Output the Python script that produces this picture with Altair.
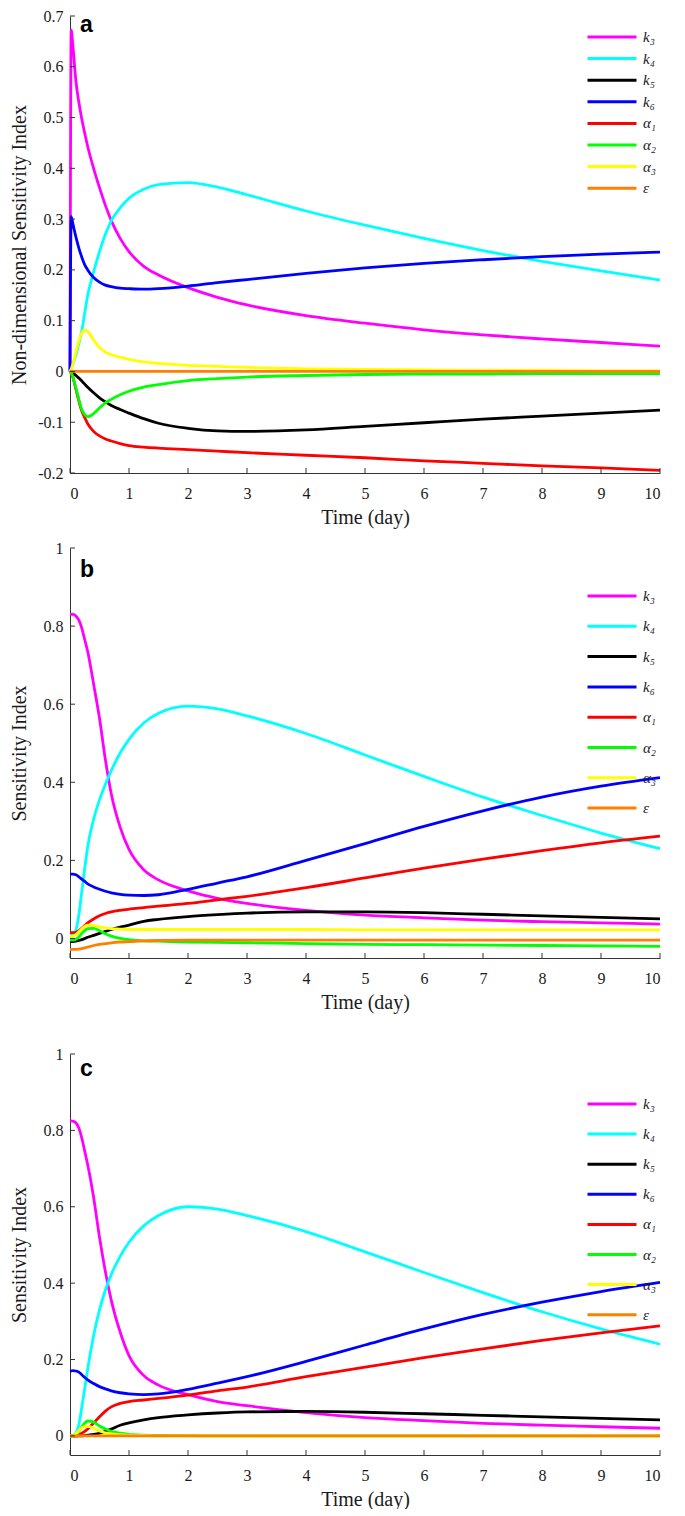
import altair as alt
import pandas as pd

# ---------------- data ----------------
T = [0, 0.02, 0.05, 0.1, 0.15, 0.2, 0.25, 0.3, 0.4, 0.5, 0.6, 0.7, 0.85, 1.0,
     1.25, 1.5, 2.0, 2.5, 3, 4, 5, 6, 7, 8, 9, 10]

SERIES = ["k\u2083", "k\u2084", "k\u2085", "k\u2086", "\u03b1\u2081", "\u03b1\u2082", "\u03b1\u2083", "\u03b5"]
COLORS = ["#FF00FF", "#00FFFF", "#000000", "#0000FF", "#FF0000", "#00FF00", "#FFFF00", "#FF8000"]

XTICKS = [0, 1, 2, 3, 4, 5, 6, 7, 8, 9, 10]
A_YTICKS = [-0.2, -0.1, 0, 0.1, 0.2, 0.3, 0.4, 0.5, 0.6, 0.7]
BC_YTICKS = [0, 0.2, 0.4, 0.6, 0.8, 1]

# panel a
A_K3 = [0, 0.672, 0.64, 0.572, 0.53, 0.497, 0.469, 0.443, 0.4, 0.362, 0.327, 0.297, 0.262, 0.236,
        0.207, 0.19, 0.165, 0.146, 0.131, 0.11, 0.095, 0.082, 0.072, 0.064, 0.057, 0.05]
A_K4 = [0, 0.005, 0.015, 0.032, 0.055, 0.08, 0.115, 0.15, 0.196, 0.236, 0.27, 0.297, 0.322, 0.341,
        0.359, 0.368, 0.372, 0.363, 0.348, 0.316, 0.288, 0.262, 0.238, 0.217, 0.198, 0.18]
A_K5 = [0, -0.001, -0.003, -0.008, -0.013, -0.019, -0.025, -0.031, -0.042, -0.052, -0.06, -0.067,
        -0.075, -0.082, -0.093, -0.102, -0.112, -0.117, -0.118, -0.115, -0.108, -0.101, -0.094,
        -0.088, -0.082, -0.076]
A_K6 = [0, 0.305, 0.29, 0.265, 0.243, 0.225, 0.21, 0.2, 0.185, 0.176, 0.17, 0.167, 0.164, 0.163,
        0.162, 0.163, 0.168, 0.175, 0.181, 0.193, 0.204, 0.213, 0.22, 0.226, 0.231, 0.235]
A_AL1 = [0, -0.003, -0.012, -0.035, -0.058, -0.078, -0.091, -0.103, -0.118, -0.127, -0.133, -0.137,
         -0.142, -0.146, -0.149, -0.151, -0.154, -0.157, -0.16, -0.165, -0.17, -0.176, -0.181,
         -0.186, -0.19, -0.195]
A_AL2 = [0, -0.003, -0.012, -0.033, -0.055, -0.075, -0.085, -0.089, -0.083, -0.072, -0.062, -0.055,
         -0.046, -0.039, -0.031, -0.026, -0.018, -0.014, -0.011, -0.008, -0.006, -0.005, -0.005,
         -0.004, -0.004, -0.004]
A_AL3 = [0, 0.005, 0.015, 0.038, 0.06, 0.076, 0.082, 0.079, 0.062, 0.047, 0.038, 0.033, 0.028,
         0.024, 0.019, 0.016, 0.012, 0.01, 0.008, 0.005, 0.004, 0.003, 0.002, 0.002, 0.001, 0.001]
A_EPS = [0] * 26

# panel b
B_K3 = [0.83, 0.83, 0.83, 0.826, 0.815, 0.795, 0.765, 0.735, 0.652, 0.564, 0.458, 0.37, 0.285,
        0.228, 0.176, 0.15, 0.122, 0.103, 0.09, 0.072, 0.06, 0.053, 0.047, 0.043, 0.04, 0.037]
B_K4 = [0.01, 0.01, 0.011, 0.022, 0.06, 0.12, 0.18, 0.235, 0.305, 0.355, 0.395, 0.43, 0.475, 0.51,
        0.552, 0.577, 0.595, 0.588, 0.57, 0.525, 0.47, 0.415, 0.362, 0.315, 0.27, 0.23]
B_K5 = [-0.008, -0.008, -0.008, -0.007, -0.005, -0.003, 0.0, 0.003, 0.008, 0.013, 0.018, 0.023,
        0.029, 0.034, 0.044, 0.049, 0.056, 0.061, 0.065, 0.068, 0.068, 0.066, 0.062, 0.058, 0.054,
        0.05]
B_K6 = [0.165, 0.165, 0.165, 0.163, 0.158, 0.152, 0.146, 0.14, 0.132, 0.126, 0.121, 0.117, 0.113,
        0.111, 0.11, 0.112, 0.126, 0.142, 0.158, 0.2, 0.243, 0.287, 0.327, 0.362, 0.39, 0.412]
B_AL1 = [0.015, 0.015, 0.015, 0.016, 0.02, 0.026, 0.033, 0.04, 0.05, 0.058, 0.064, 0.068, 0.072,
         0.075, 0.079, 0.083, 0.09, 0.099, 0.108, 0.13, 0.155, 0.18, 0.203, 0.225, 0.245, 0.262]
B_AL2 = [-0.004, -0.004, -0.004, -0.002, 0.004, 0.013, 0.02, 0.025, 0.026, 0.02, 0.012, 0.006, 0.0,
         -0.003, -0.006, -0.007, -0.009, -0.01, -0.011, -0.013, -0.015, -0.016, -0.017, -0.018,
         -0.019, -0.02]
B_AL3 = [0.005, 0.005, 0.006, 0.01, 0.017, 0.025, 0.031, 0.034, 0.033, 0.03, 0.027, 0.025, 0.024,
         0.023, 0.023, 0.023, 0.023, 0.023, 0.023, 0.023, 0.022, 0.022, 0.022, 0.022, 0.022, 0.022]
B_EPS = [-0.028, -0.028, -0.028, -0.028, -0.027, -0.026, -0.024, -0.022, -0.018, -0.015, -0.013,
         -0.011, -0.009, -0.008, -0.006, -0.005, -0.004, -0.004, -0.004, -0.004, -0.004, -0.004,
         -0.004, -0.004, -0.004, -0.004]

# panel c
C_K3 = [0.825, 0.825, 0.824, 0.82, 0.806, 0.78, 0.745, 0.71, 0.625, 0.52, 0.43, 0.355, 0.272, 0.21,
        0.158, 0.133, 0.108, 0.09, 0.079, 0.061, 0.048, 0.04, 0.033, 0.028, 0.024, 0.02]
C_K4 = [0.0, 0.0, 0.001, 0.008, 0.03, 0.075, 0.125, 0.175, 0.262, 0.33, 0.382, 0.423, 0.47, 0.507,
        0.55, 0.577, 0.6, 0.594, 0.577, 0.535, 0.482, 0.428, 0.375, 0.325, 0.28, 0.24]
C_K5 = [0, 0, 0, 0, 0, 0, 0.001, 0.002, 0.004, 0.007, 0.012, 0.018, 0.028, 0.034, 0.042, 0.048,
        0.055, 0.06, 0.063, 0.064, 0.062, 0.058, 0.054, 0.05, 0.046, 0.042]
C_K6 = [0.17, 0.17, 0.171, 0.17, 0.167, 0.16, 0.153, 0.147, 0.137, 0.129, 0.123, 0.118, 0.113, 0.11,
        0.108, 0.11, 0.122, 0.138, 0.155, 0.195, 0.238, 0.28, 0.318, 0.35, 0.378, 0.402]
C_AL1 = [0, 0, 0, 0, 0.002, 0.007, 0.012, 0.018, 0.034, 0.05, 0.065, 0.076, 0.085, 0.09, 0.094,
         0.098, 0.107, 0.118, 0.128, 0.155, 0.18, 0.205, 0.228, 0.25, 0.27, 0.288]
C_AL2 = [0, 0, 0, 0.004, 0.012, 0.024, 0.034, 0.039, 0.036, 0.026, 0.018, 0.012, 0.007, 0.004,
         0.002, 0.001, 0.0005, 0, 0, 0, 0, 0, 0, 0, 0, 0]
C_AL3 = [0, 0, 0, 0.006, 0.014, 0.021, 0.025, 0.025, 0.02, 0.013, 0.008, 0.005, 0.003, 0.002, 0.001,
         0, 0, 0, 0, 0, 0, 0, 0, 0, 0, 0]
C_EPS = [0] * 26

PANEL_A = [A_K3, A_K4, A_K5, A_K6, A_AL1, A_AL2, A_AL3, A_EPS]
PANEL_B = [B_K3, B_K4, B_K5, B_K6, B_AL1, B_AL2, B_AL3, B_EPS]
PANEL_C = [C_K3, C_K4, C_K5, C_K6, C_AL1, C_AL2, C_AL3, C_EPS]


def long_df(panel):
    rows = []
    for name, vals in zip(SERIES, panel):
        for t, v in zip(T, vals):
            rows.append({"t": t, "s": name, "v": v})
    return pd.DataFrame(rows)


SERIF = "Liberation Serif"
AXIS_COLOR = "#333333"
TXT_COLOR = "#1a1a1a"
W = 590


def panel(panel_vals, ydom, yticks, ytitle, letter, letter_y, height, leg_y, leg_row):
    df = long_df(panel_vals)
    xsc = alt.Scale(domain=[0, 10], nice=False, zero=False)
    ysc = alt.Scale(domain=ydom, nice=False, zero=False)
    xaxis = alt.Axis(values=XTICKS, format="d", title="Time (day)", ticks=False, tickSize=0,
                     labelPadding=12, labelFontSize=16, labelFont=SERIF, labelColor=TXT_COLOR,
                     titleFont=SERIF, titleFontSize=20, titleFontWeight="normal",
                     titleColor=TXT_COLOR, titlePadding=6, grid=False,
                     domainColor=AXIS_COLOR, domainWidth=1)
    yaxis = alt.Axis(values=yticks, title=ytitle, ticks=False, tickSize=0,
                     labelExpr="(datum.value < 0 ? '-' : '') + format(abs(datum.value), '~g')",
                     labelPadding=7, labelFontSize=16, labelFont=SERIF, labelColor=TXT_COLOR,
                     titleFont=SERIF, titleFontSize=20, titleFontWeight="normal",
                     titleColor=TXT_COLOR, titleAngle=270, titleBaseline="middle",
                     titleAlign="center", titleX=-51, titleY=height / 2, grid=False,
                     domainColor=AXIS_COLOR, domainWidth=1)
    lines = alt.Chart(df).mark_line(strokeWidth=2.8, interpolate="monotone").encode(
        x=alt.X("t:Q", scale=xsc, axis=xaxis),
        y=alt.Y("v:Q", scale=ysc, axis=yaxis),
        color=alt.Color("s:N", scale=alt.Scale(domain=SERIES, range=COLORS),
                        legend=alt.Legend(title=None, orient="none", legendX=516, legendY=leg_y,
                                          symbolType="stroke", symbolSize=2401, symbolStrokeWidth=3,
                                          clipHeight=14, rowPadding=leg_row, padding=0,
                                          labelFont=SERIF, labelFontSize=15, labelFontStyle="italic",
                                          labelColor=TXT_COLOR, labelOffset=5)),
    )
    xt = alt.Chart(pd.DataFrame({"t": XTICKS})).mark_rule(color=AXIS_COLOR, strokeWidth=1).encode(
        x=alt.X("t:Q", scale=xsc, axis=xaxis),
        y=alt.value(height), y2=alt.value(height - 5))
    yt = alt.Chart(pd.DataFrame({"v": yticks})).mark_rule(color=AXIS_COLOR, strokeWidth=1).encode(
        y=alt.Y("v:Q", scale=ysc, axis=yaxis),
        x=alt.value(0), x2=alt.value(5))
    lab = alt.Chart(pd.DataFrame({"lab": [letter]})).mark_text(
        font="Liberation Sans", fontWeight="bold", fontSize=23, align="left",
        baseline="alphabetic", color="#000000").encode(
        text="lab:N", x=alt.value(10), y=alt.value(letter_y))
    return alt.layer(lines, xt, yt, lab).properties(width=W, height=height)


pa = panel(PANEL_A, [-0.2, 0.7], A_YTICKS, "Non-dimensional Sensitivity Index", "a", 16, 457, 14, 6.6)
pb = panel(PANEL_B, [-0.05, 1], BC_YTICKS, "Sensitivity Index", "b", 29, 410, 41, 15.3)
pc = panel(PANEL_C, [-0.05, 1], BC_YTICKS, "Sensitivity Index", "c", 22, 401, 43, 15.1).properties(
    title=alt.TitleParams(text=" ", fontSize=14, offset=7))

chart = alt.vconcat(pa, pb, pc, spacing=13).resolve_legend(color="independent").properties(
    padding={"left": 0, "top": 0, "right": 5, "bottom": 0}
).configure_view(strokeWidth=0)

chart.save("out.html", embed_options={"renderer": "svg", "actions": False})
